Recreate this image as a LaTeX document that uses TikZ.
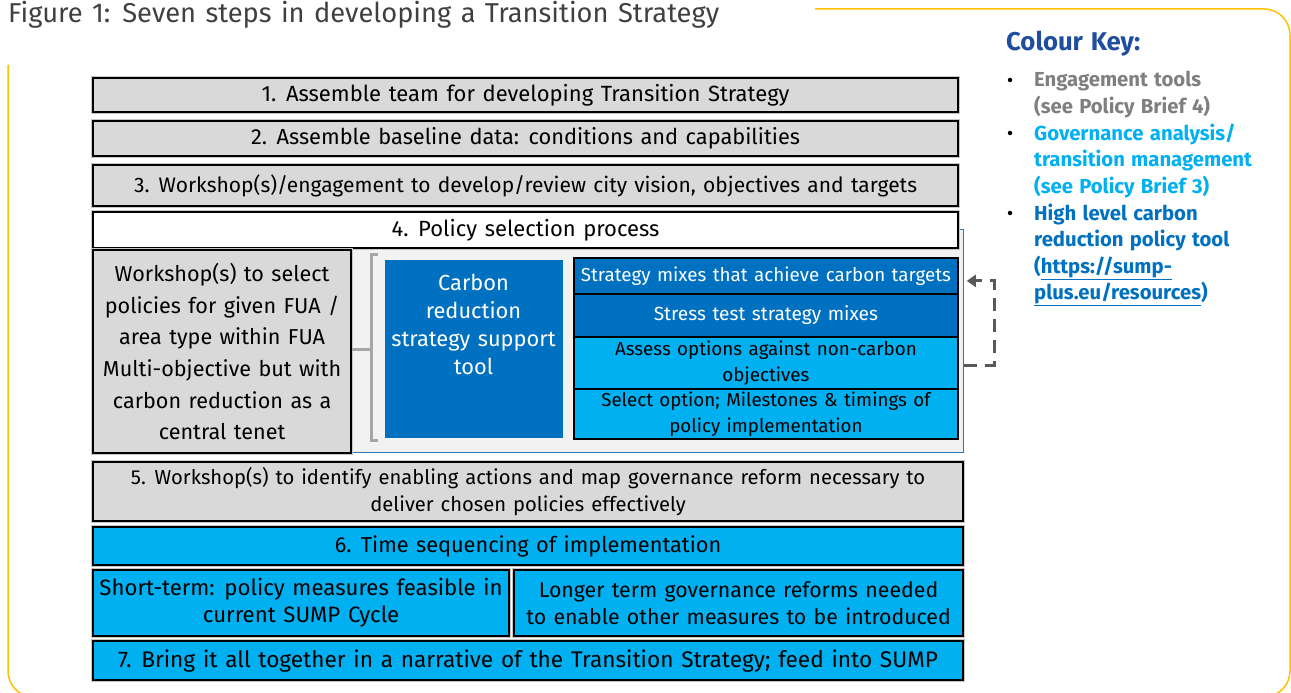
\documentclass[tikz,border=0pt]{standalone}
\usepackage{fontspec}
\setmainfont{Fira Sans}[WordSpace=1.3]
\usetikzlibrary{arrows.meta,calc}
\definecolor{dblue}{RGB}{0,112,192}
\definecolor{lblue}{RGB}{0,176,240}
\definecolor{boxgray}{RGB}{217,217,217}
\definecolor{panelgray}{RGB}{242,242,242}
\definecolor{panelblue}{RGB}{46,117,182}
\definecolor{keyblue}{RGB}{31,78,158}
\definecolor{keygray}{RGB}{127,127,127}
\definecolor{titlegray}{RGB}{64,64,64}
\definecolor{frameyellow}{RGB}{255,192,0}
\definecolor{arrowgray}{RGB}{89,89,89}
\definecolor{bracketgray}{RGB}{166,166,166}
\newcommand{\fs}[2]{\fontsize{#1}{#2}\selectfont}
\tikzset{
  x=1pt, y=-1pt,
  stepbox/.style={draw=black, line width=2.2pt, preaction={draw=black!22, line width=4.4pt},
    inner sep=0pt, anchor=north west, align=center, font=\fs{21}{27}},
  graybox/.style={stepbox, fill=boxgray},
  whitebox/.style={stepbox, fill=white},
  lbluebox/.style={stepbox, fill=lblue},
  stackbox/.style={line width=1.8pt, draw=black, inner sep=0pt, anchor=north west, align=center,
    font=\fs{18.8}{26}},
  keyitem/.style={anchor=base west, align=left, inner sep=0pt, font=\bfseries\fs{20.3}{26.5}},
  bullet/.style={circle, fill=black, inner sep=0pt, minimum size=4.5pt},
  dasharrow/.style={draw=arrowgray, line width=3pt, dash pattern=on 13pt off 8pt,
    -{Triangle[length=9pt,width=12pt]}}
}
\begin{document}
\begin{tikzpicture}
\useasboundingbox (0,0) rectangle (1291,693);
\begin{scope}
\clip (0,0) rectangle (1291,693);
\draw[frameyellow, line width=1.5pt, rounded corners=26pt]
  (815,9) -- (1290,9) -- (1290,697) -- (8,697) -- (8,65);
\end{scope}

% title
\node[anchor=base west, inner sep=0pt, text=titlegray, font=\fs{27.3}{30}] (title) at (8,23)
  {Figure 1: Seven steps in developing a Transition Strategy};

% steps 1-3
\node[graybox, minimum width=865pt, minimum height=34pt, font=\fs{22}{27}] (st1) at (92,77)
  {1. Assemble team for developing Transition Strategy};
\node[graybox, minimum width=865pt, minimum height=35pt, font=\fs{21.8}{27}] (st2) at (92,120)
  {2. Assemble baseline data: conditions and capabilities};
\node[graybox, minimum width=865pt, minimum height=41pt, font=\fs{21}{27}] (st3) at (92,164)
  {3. Workshop(s)/engagement to develop/review city vision, objectives and targets};

% step 4 panel
\node[anchor=north west, inner sep=0pt, fill=panelgray, draw=panelblue, line width=1.3pt,
  minimum width=613pt, minimum height=223pt] (panel) at (350,229) {};
\node[whitebox, minimum width=865pt, minimum height=36pt, font=\fs{22}{27}] (st4) at (92,211)
  {4. Policy selection process};
\node[graybox, minimum width=258pt, minimum height=203pt, font=\fs{21.6}{31.6}] (ws) at (92,249)
  {Workshop(s) to select\\policies for given FUA /\\area type within FUA\\Multi-objective but with\\carbon reduction as a\\central tenet};

% bracket
\draw[bracketgray, line width=3pt] (378,254) -- (371,254) -- (371,440) -- (378,440);
\draw[bracketgray, line width=3pt] (ws.east |- 0,349) -- (371,349);

% carbon tool
\node[anchor=north west, inner sep=0pt, fill=dblue, draw=panelgray, line width=1pt,
  minimum width=179pt, minimum height=179pt] (tool) at (384,259) {};
\node[align=center, text=white, inner sep=0pt, font=\fs{21.8}{28}] (tooltext) at (473.5,324)
  {Carbon\\reduction\\strategy support\\tool};

% stack
\node[stackbox, fill=dblue, text=white, minimum width=384pt, minimum height=36pt] (mix) at (573,257)
  {Strategy mixes that achieve carbon targets};
\node[stackbox, fill=dblue, text=white, minimum width=384pt, minimum height=43pt, font=\fs{19.1}{26}] (stress) at (573,293)
  {Stress test strategy mixes};
\node[stackbox, fill=lblue, minimum width=384pt, minimum height=52pt] (assess) at (573,336)
  {Assess options against non-carbon\\objectives};
\node[stackbox, fill=lblue, minimum width=384pt, minimum height=50pt, font=\fs{18.7}{26}] (select) at (573,388)
  {Select option; Milestones \& timings of\\policy implementation};

% feedback arrow
\coordinate (fbstart) at (panel.east |- 0,365);
\coordinate (fbend) at ($(mix.east)+(8,5)$);
\draw[dasharrow] (fbstart) -- ++(30,0) |- (fbend);

% steps 5-7
\node[graybox, minimum width=870pt, minimum height=59pt, font=\fs{20.2}{27}] (st5) at (92,461)
  {5. Workshop(s) to identify enabling actions and map governance reform necessary to\\deliver chosen policies effectively};
\node[lbluebox, minimum width=870pt, minimum height=38pt, font=\fs{21.7}{27}] (st6) at (92,526)
  {6. Time sequencing of implementation};
\node[lbluebox, minimum width=416pt, minimum height=66pt, font=\fs{22.2}{27}] (short) at (92,569)
  {Short-term: policy measures feasible in\\current SUMP Cycle};
\node[lbluebox, minimum width=449pt, minimum height=66pt, font=\fs{21.3}{27}] (long) at (513,569)
  {Longer term governance reforms needed\\to enable other measures to be introduced};
\node[lbluebox, minimum width=870pt, minimum height=39pt, font=\fs{22.6}{27}] (st7) at (92,640)
  {7. Bring it all together in a narrative of the Transition Strategy; feed into SUMP};

% colour key
\node[anchor=base west, inner sep=0pt, text=keyblue, font=\bfseries\fs{25.7}{28}] (keytitle) at (1006,51)
  {Colour Key:};
\node[keyitem, text=keygray] (k1) at (1034,113.5) {Engagement tools\\(see Policy Brief 4)};
\node[keyitem, text=lblue] (k2) at (1034,193) {Governance analysis/\\transition management\\(see Policy Brief 3)};
\node[keyitem, text=dblue] (k3) at (1034,299.5) {High level carbon\\reduction policy tool\\(\underline{https://sump-}\\\underline{plus.eu/resources})};
\node[bullet] (b1) at (1010,80) {};
\node[bullet] (b2) at (1010,133) {};
\node[bullet] (b3) at (1010,213) {};
\end{tikzpicture}
\end{document}
